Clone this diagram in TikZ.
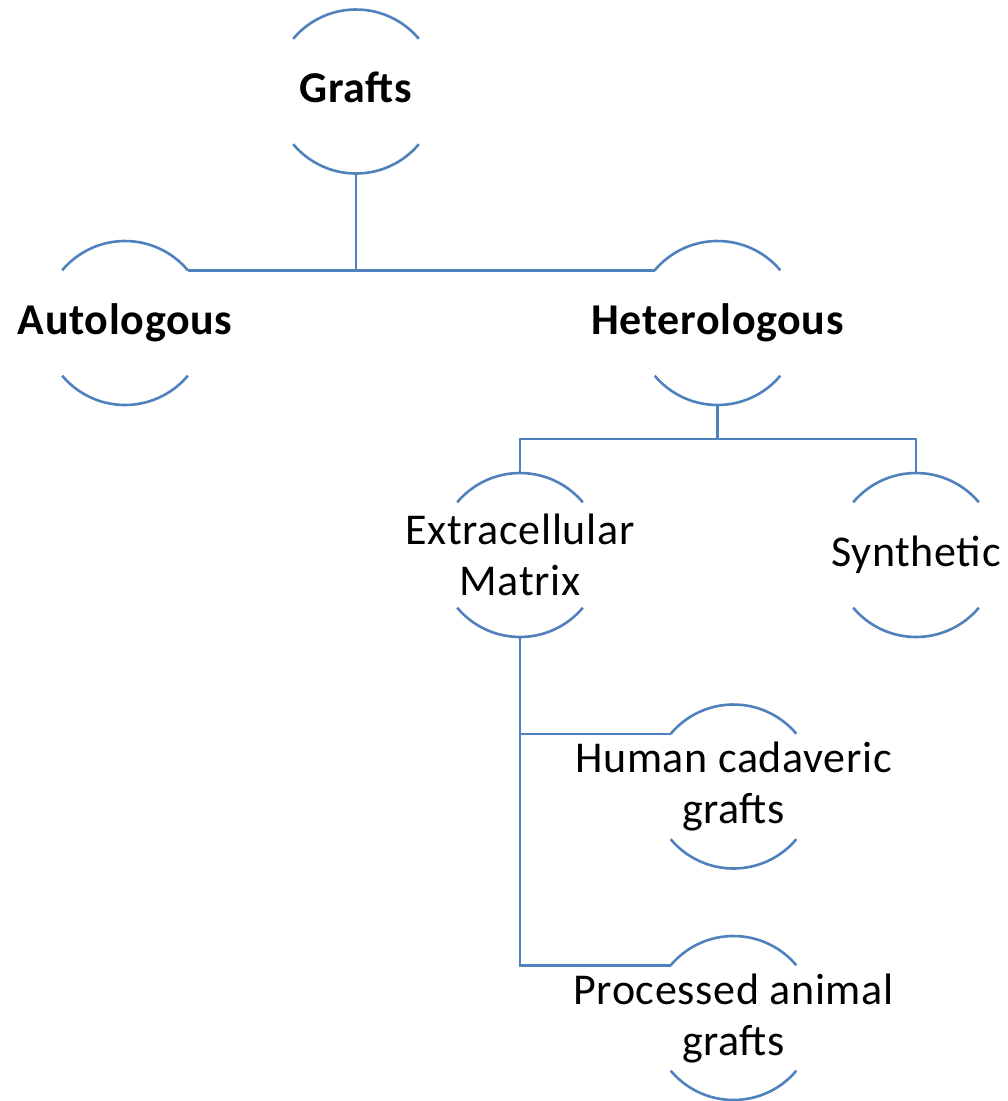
\documentclass[tikz,border=0pt]{standalone}
\usepackage{fontspec}
\setmainfont{Carlito}[LetterSpace=1.5]
\usetikzlibrary{calc,positioning}
\definecolor{linkblue}{RGB}{79,129,189}

\begin{document}
\begin{tikzpicture}[x=1pt,y=1pt,
    bub/.style={circle, minimum size=164pt, inner sep=0pt, outer sep=0pt},
    head/.style={font=\fontsize{44}{51}\selectfont\bfseries, align=center, inner sep=0pt},
    leaf/.style={font=\fontsize{44}{51}\selectfont, align=center, inner sep=0pt},
    link/.style={draw=linkblue, line width=2.6pt}]
    \useasboundingbox (0,0) rectangle (1008,-1101);
    % circles (only their top and bottom arcs are drawn)
    \node[bub] (graft)  at (356,-91.5)    {};
    \node[bub] (auto)   at (125,-323)     {};
    \node[bub] (hetero) at (717.5,-323)   {};
    \node[bub] (ecm)    at (520,-555)     {};
    \node[bub] (syn)    at (916,-555)     {};
    \node[bub] (human)  at (733.5,-786.5) {};
    \node[bub] (animal) at (733.5,-1018)  {};
    % texts
    \node[head] (graftT)  at ([yshift=4pt]graft.center) {Grafts};
    \node[head] (autoT)   at (auto)   {Autologous};
    \node[head] (heteroT) at (hetero) {Heterologous};
    \node[leaf] (ecmT)    at (ecm)    {Extracellular\\Matrix};
    \node[leaf] (synT)    at (syn)    {Synthetic};
    \node[leaf] (humanT)  at (human)  {Human cadaveric\\grafts};
    \node[leaf] (animalT) at (animal) {Processed animal\\grafts};
    \foreach \n in {graft,auto,hetero,ecm,syn,human,animal} {
      \draw[link] (\n.140) arc[start angle=140, end angle=40, radius=82pt];
      \draw[link] (\n.220) arc[start angle=220, end angle=320, radius=82pt];
    }
    % connectors
    \draw[link] (graft.south) -- (graft.south |- auto.40);
    \draw[link] (auto.40) -- (hetero.140);
    \coordinate (hj) at ($(hetero.south)+(0,-34)$);
    \draw[link] (hetero.south) -- (hj);
    \draw[link] (ecm.north) |- (hj) -| (syn.north);
    \draw[link] (ecm.south) |- (animal.140);
    \draw[link] (human.140) -- (human.140 -| ecm.south);
\end{tikzpicture}
\end{document}
